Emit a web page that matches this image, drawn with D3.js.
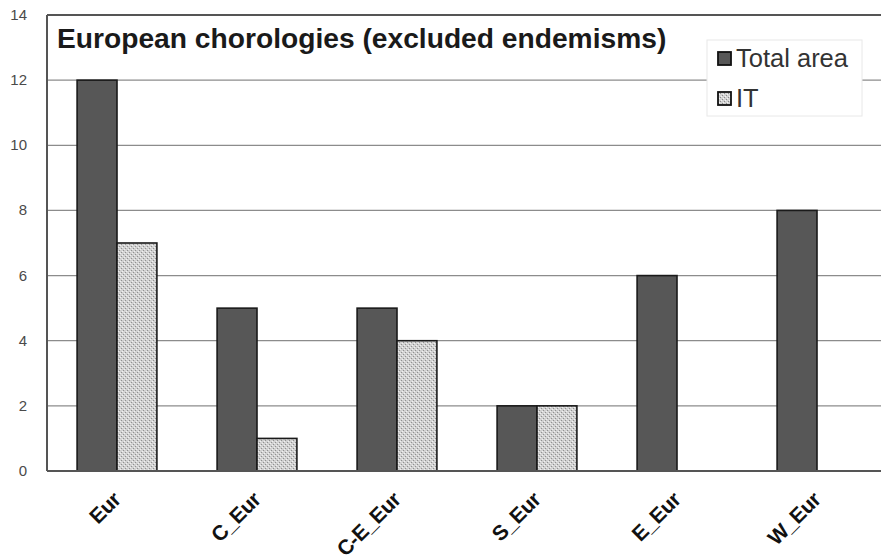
<!DOCTYPE html>
<html><head><meta charset="utf-8">
<script src="https://cdn.jsdelivr.net/npm/d3@7"></script>
<style>body{margin:0;background:#fff}svg{display:block}</style>
</head><body>
<svg id="c" width="881" height="560"></svg>
<script>
const categories = ["Eur","C_Eur","C-E_Eur","S_Eur","E_Eur","W_Eur"];
const seriesNames = ["Total area","IT"];
const totalArea = [12,5,5,2,6,8];
const itValues = [7,1,4,2,0,0];
const yTicks = [0,2,4,6,8,10,12,14];
const title = "European chorologies (excluded endemisms)";

const svg = d3.select("#c");
const m = {l:47, t:15, r:-6, b:89};
const W = 881, H = 560;
const FONT = "Liberation Sans, Arial, sans-serif";
const x0 = d3.scaleBand().domain(categories).range([m.l, W - m.r]).paddingInner(0.43).paddingOuter(0.215);
const x1 = d3.scaleBand().domain(seriesNames).range([0, x0.bandwidth()]);
const y = d3.scaleLinear().domain([0,14]).range([H - m.b, m.t]);

const defs = svg.append("defs");
const pat = defs.append("pattern").attr("id","dots").attr("width",4).attr("height",4).attr("patternUnits","userSpaceOnUse");
pat.append("rect").attr("width",4).attr("height",4).attr("fill","#d2d2d2");
pat.append("rect").attr("x",0).attr("y",0).attr("width",1).attr("height",1).attr("fill","#8a8a8a");
pat.append("rect").attr("x",2).attr("y",2).attr("width",1).attr("height",1).attr("fill","#8a8a8a");
pat.append("rect").attr("x",1).attr("y",3).attr("width",1).attr("height",1).attr("fill","#f4f4f4");
pat.append("rect").attr("x",3).attr("y",1).attr("width",1).attr("height",1).attr("fill","#f4f4f4");

// gridlines
svg.append("g").selectAll("line").data(yTicks.filter(t=>t>0 && t<14)).join("line")
  .attr("x1", m.l).attr("x2", W).attr("y1", d=>y(d)).attr("y2", d=>y(d))
  .attr("stroke","#8c8c8c").attr("stroke-width",1.3);

// y axis labels
const ya = svg.append("g").attr("transform",`translate(${m.l},0)`)
  .call(d3.axisLeft(y).tickValues(yTicks).tickSize(0).tickPadding(20).tickFormat(d3.format("d")));
ya.select(".domain").remove();
ya.selectAll("text").attr("font-family",FONT).attr("font-size",15).attr("fill","#4a4a4a").attr("dy","0.3em");

const data = categories.map((c,i)=>({c, vals:[totalArea[i], itValues[i]]}));
const g = svg.append("g").selectAll("g").data(data).join("g").attr("transform",d=>`translate(${x0(d.c)},0)`);
g.selectAll("rect").data(d=>d.vals.map((v,j)=>({s:seriesNames[j], v}))).join("rect")
  .filter(d=>d.v>0)
  .attr("x", d=>x1(d.s)).attr("width", x1.bandwidth())
  .attr("y", d=>y(d.v)).attr("height", d=>y(0)-y(d.v))
  .attr("fill", d=>d.s==="IT" ? "url(#dots)" : "#575757")
  .attr("stroke","#1a1a1a").attr("stroke-width",1.6);

// plot frame
svg.append("line").attr("x1",m.l).attr("x2",W).attr("y1",y(14)).attr("y2",y(14)).attr("stroke","#555").attr("stroke-width",2);
svg.append("line").attr("x1",m.l).attr("x2",W).attr("y1",y(0)).attr("y2",y(0)).attr("stroke","#555").attr("stroke-width",2);
svg.append("line").attr("x1",m.l).attr("x2",m.l).attr("y1",y(14)).attr("y2",y(0)).attr("stroke","#555").attr("stroke-width",2);

// x labels
const xa = svg.append("g").attr("transform",`translate(0,${y(0)})`)
  .call(d3.axisBottom(x0).tickSize(0).tickPadding(0));
xa.select(".domain").remove();
xa.selectAll("text")
  .attr("font-family",FONT).attr("font-size",21).attr("font-weight","bold").attr("fill","#111")
  .attr("letter-spacing","-0.4px")
  .attr("text-anchor","end").attr("dy",0).attr("y",0)
  .attr("transform","translate(5,30) rotate(-45)");

// title
svg.append("text").attr("x",57).attr("y",48).text(title)
  .attr("font-family",FONT).attr("font-size",28.2).attr("font-weight","bold").attr("fill","#1a1a1a");

// legend
const lg = svg.append("g").attr("transform","translate(707,40)");
lg.append("rect").attr("width",155).attr("height",76).attr("fill","#fff").attr("stroke","#e8e8e8");
const li = lg.selectAll("g").data(seriesNames).join("g").attr("transform",(d,i)=>`translate(11,${27+i*40})`);
li.append("rect").attr("x",0).attr("y",-15).attr("width",13).attr("height",13)
  .attr("fill",d=>d==="IT"?"url(#dots)":"#575757").attr("stroke","#111").attr("stroke-width",1.8);
li.append("text").attr("x",18).attr("y",0).text(d=>d)
  .attr("font-family",FONT).attr("font-size",25.5).attr("fill","#333");
</script>
</body></html>
